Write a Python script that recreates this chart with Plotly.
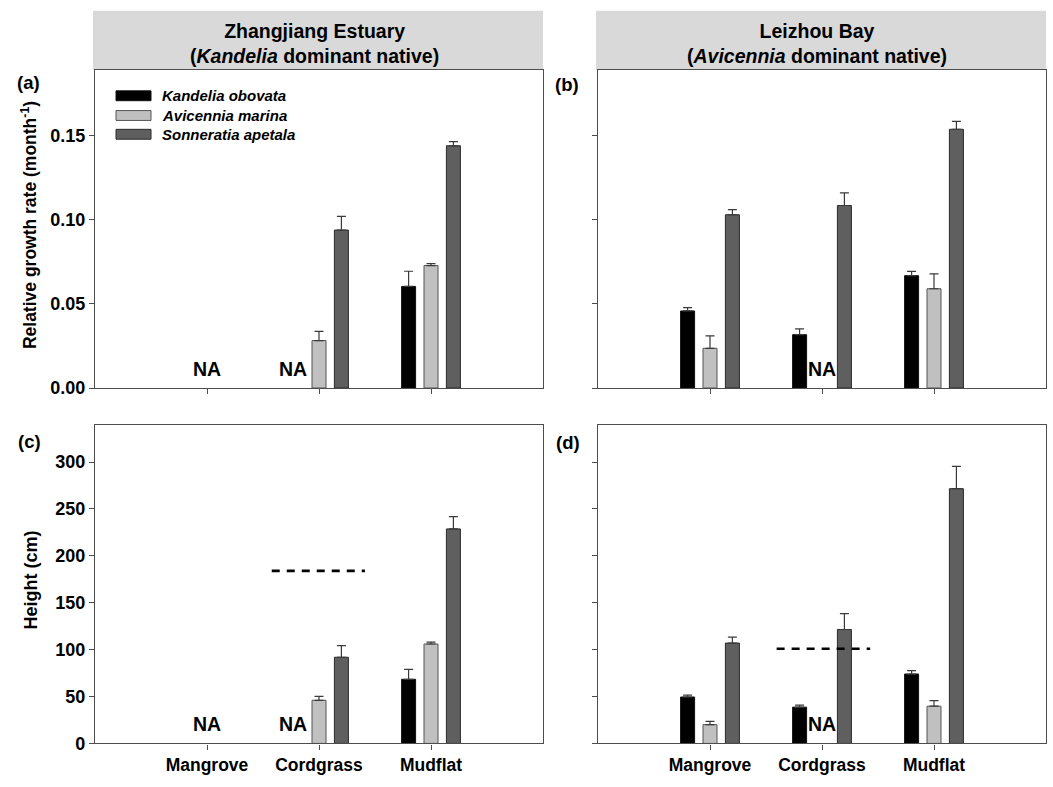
import plotly.graph_objects as go

# ---------------- data ----------------
categories = ["Mangrove", "Cordgrass", "Mudflat"]
cat_pos = [1, 2, 3]
species = ["Kandelia obovata", "Avicennia marina", "Sonneratia apetala"]

# Relative growth rate (month^-1), Zhangjiang Estuary
rgr_zj_kandelia = [None, None, 0.0604]
rgr_zj_kandelia_se = [None, None, 0.0090]
rgr_zj_avicennia = [None, 0.0282, 0.0728]
rgr_zj_avicennia_se = [None, 0.0055, 0.0011]
rgr_zj_sonneratia = [None, 0.0939, 0.1440]
rgr_zj_sonneratia_se = [None, 0.0081, 0.0025]

# Relative growth rate (month^-1), Leizhou Bay
rgr_lz_kandelia = [0.0458, 0.0317, 0.0668]
rgr_lz_kandelia_se = [0.0020, 0.0035, 0.0025]
rgr_lz_avicennia = [0.0236, None, 0.0590]
rgr_lz_avicennia_se = [0.0074, None, 0.0088]
rgr_lz_sonneratia = [0.1030, 0.1085, 0.1538]
rgr_lz_sonneratia_se = [0.0030, 0.0075, 0.0047]

# Height (cm), Zhangjiang Estuary
h_zj_kandelia = [None, None, 68.4]
h_zj_kandelia_se = [None, None, 10.6]
h_zj_avicennia = [None, 46.0, 106.0]
h_zj_avicennia_se = [None, 4.2, 2.1]
h_zj_sonneratia = [None, 91.9, 228.7]
h_zj_sonneratia_se = [None, 12.3, 13.1]

# Height (cm), Leizhou Bay
h_lz_kandelia = [49.5, 38.7, 74.0]
h_lz_kandelia_se = [2.1, 2.1, 3.6]
h_lz_avicennia = [20.0, None, 39.7]
h_lz_avicennia_se = [3.5, None, 6.0]
h_lz_sonneratia = [107.0, 121.5, 271.6]
h_lz_sonneratia_se = [6.3, 16.8, 23.9]

# Cordgrass canopy height reference (dashed lines)
cordgrass_height_zj = 184
cordgrass_height_lz = 101

rgr_ticks = [0.0, 0.05, 0.10, 0.15]
height_ticks = [0, 50, 100, 150, 200, 250, 300]

# ---------------- styling ----------------
W, H = 1053, 787
FONT = "Liberation Sans, Arial, sans-serif"
fills = ["#000000", "#c0c0c0", "#5f5f5f"]
edges = ["#111111", "#555555", "#2a2a2a"]
AXC = "#4d4d4d"


def px(x):
    return x / W


def py(y):
    return 1 - y / H


# panel domains (pixel measured)
xdom_left = [px(95), px(543)]
xdom_right = [px(598), px(1046)]
ydom_top = [py(393), py(71)]
ydom_bot = [py(753), py(430)]

fig = go.Figure()

panels = [
    ("x", "y", [rgr_zj_kandelia, rgr_zj_avicennia, rgr_zj_sonneratia],
     [rgr_zj_kandelia_se, rgr_zj_avicennia_se, rgr_zj_sonneratia_se]),
    ("x2", "y2", [rgr_lz_kandelia, rgr_lz_avicennia, rgr_lz_sonneratia],
     [rgr_lz_kandelia_se, rgr_lz_avicennia_se, rgr_lz_sonneratia_se]),
    ("x3", "y3", [h_zj_kandelia, h_zj_avicennia, h_zj_sonneratia],
     [h_zj_kandelia_se, h_zj_avicennia_se, h_zj_sonneratia_se]),
    ("x4", "y4", [h_lz_kandelia, h_lz_avicennia, h_lz_sonneratia],
     [h_lz_kandelia_se, h_lz_avicennia_se, h_lz_sonneratia_se]),
]

for xa, ya, vals, errs in panels:
    for i in range(3):
        fig.add_trace(go.Bar(
            x=cat_pos, y=vals[i], name=species[i], xaxis=xa, yaxis=ya,
            marker=dict(color=fills[i], line=dict(color=edges[i], width=1)),
            error_y=dict(type="data", array=errs[i],
                         arrayminus=[0 if e is not None else None for e in errs[i]],
                         symmetric=False, color="#3a3a3a", thickness=1.2, width=4.5),
            showlegend=False,
        ))

# dashed cordgrass reference lines
fig.add_trace(go.Scatter(x=[1.578, 2.41], y=[cordgrass_height_zj] * 2, xaxis="x3", yaxis="y3",
                         mode="lines", line=dict(color="black", width=2.6, dash="8px,7px"),
                         showlegend=False))
fig.add_trace(go.Scatter(x=[1.595, 2.43], y=[cordgrass_height_lz] * 2, xaxis="x4", yaxis="y4",
                         mode="lines", line=dict(color="black", width=2.6, dash="8px,7px"),
                         showlegend=False))

common_x = dict(range=[0, 4], tickvals=cat_pos, ticktext=categories, ticks="outside",
                ticklen=5, tickcolor=AXC, tickwidth=1, showline=True, linecolor=AXC,
                linewidth=1.3, mirror=True, showgrid=False, zeroline=False,
                tickfont=dict(family=FONT, size=17.5, color="black", weight="bold"))
common_y = dict(ticks="outside", ticklen=5, tickcolor=AXC, tickwidth=1, showline=True,
                linecolor=AXC, linewidth=1.3, mirror=True, showgrid=False, zeroline=False,
                tickfont=dict(family=FONT, size=18, color="black", weight="bold"))

fig.update_layout(
    width=W, height=H, margin=dict(l=0, r=0, t=0, b=0),
    paper_bgcolor="white", plot_bgcolor="white",
    barmode="group", bargap=0.4, bargroupgap=0.375,
    showlegend=False,
    xaxis=dict(common_x, domain=xdom_left, anchor="y", showticklabels=False),
    xaxis2=dict(common_x, domain=xdom_right, anchor="y2", showticklabels=False),
    xaxis3=dict(common_x, domain=xdom_left, anchor="y3"),
    xaxis4=dict(common_x, domain=xdom_right, anchor="y4"),
    yaxis=dict(common_y, domain=ydom_top, anchor="x", range=[0, 0.189],
               tickvals=rgr_ticks, tickformat=".2f"),
    yaxis2=dict(common_y, domain=ydom_top, anchor="x2", range=[0, 0.189],
                tickvals=rgr_ticks, showticklabels=False),
    yaxis3=dict(common_y, domain=ydom_bot, anchor="x3", range=[0, 340],
                tickvals=height_ticks),
    yaxis4=dict(common_y, domain=ydom_bot, anchor="x4", range=[0, 340],
                tickvals=height_ticks, showticklabels=False),
)

shapes = []
annotations = []

# header boxes
for x0, x1, title in [(93, 543, "Zhangjiang Estuary<br>(<i>Kandelia</i> dominant native)"),
                      (596, 1046, "Leizhou Bay<br>(<i>Avicennia</i> dominant native)")]:
    shapes.append(dict(type="rect", xref="paper", yref="paper", x0=px(x0), x1=px(x1),
                       y0=py(71), y1=py(11), fillcolor="#d9d9d9", line=dict(width=0),
                       layer="below"))
    annotations.append(dict(xref="paper", yref="paper", x=px((x0 + x1) / 2 - 4), y=py(44),
                            text=title, showarrow=False, xanchor="center", yanchor="middle",
                            font=dict(family=FONT, size=19.5, color="black", weight="bold")))

# panel labels
for lab, x, y in [("(a)", 28, 84), ("(b)", 567, 86), ("(c)", 29, 447), ("(d)", 568, 448)]:
    annotations.append(dict(xref="paper", yref="paper", x=px(x), y=py(y), text=lab,
                            showarrow=False, xanchor="center", yanchor="middle",
                            font=dict(family=FONT, size=18.5, color="black", weight="bold")))

# axis titles
annotations.append(dict(xref="paper", yref="paper", x=px(29), y=py(228),
                        text="Relative growth rate (month<sup>-1</sup>)", textangle=-90,
                        showarrow=False, xanchor="center", yanchor="middle",
                        font=dict(family=FONT, size=17.5, color="black", weight="bold")))
annotations.append(dict(xref="paper", yref="paper", x=px(31), y=py(588),
                        text="Height (cm)", textangle=-90,
                        showarrow=False, xanchor="center", yanchor="middle",
                        font=dict(family=FONT, size=18, color="black", weight="bold")))

# NA labels
na_font = dict(family=FONT, size=19.5, color="black", weight="bold")
for xr, yr, xv in [("x", "y", 1.0), ("x", "y", 1.77), ("x2", "y2", 2.0),
                   ("x3", "y3", 1.0), ("x3", "y3", 1.77), ("x4", "y4", 2.0)]:
    annotations.append(dict(xref=xr, yref=yr, x=xv, y=0, text="NA", showarrow=False,
                            xanchor="center", yanchor="bottom", yshift=6, font=na_font))

# legend (manual, inside panel a)
for i, (name, yc) in enumerate(zip(species, [97, 117, 136])):
    shapes.append(dict(type="rect", xref="paper", yref="paper", x0=px(116), x1=px(151),
                       y0=py(yc + 5), y1=py(yc - 5), fillcolor=fills[i],
                       line=dict(color=edges[i], width=1)))
    annotations.append(dict(xref="paper", yref="paper", x=px(160), y=py(yc),
                            text="<i>" + name + "</i>", showarrow=False, xanchor="left",
                            yanchor="middle",
                            font=dict(family=FONT, size=15, color="black", weight="bold")))

fig.update_layout(shapes=shapes, annotations=annotations)

fig.write_html("out.html", config={"displayModeBar": False},
               post_script="document.body.style.margin='0';")
